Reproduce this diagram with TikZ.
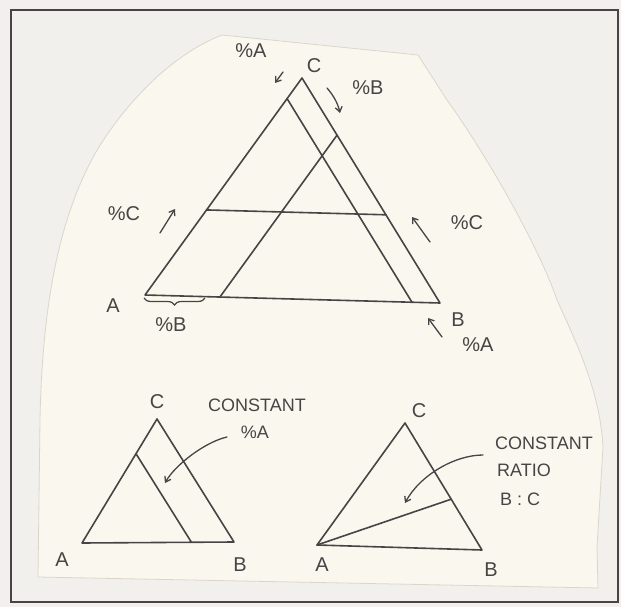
\documentclass[tikz,border=0pt]{standalone}
\usepackage{fontspec}
\setmainfont{Liberation Sans}
\usetikzlibrary{arrows.meta,decorations.pathreplacing,calc}
\definecolor{ink}{HTML}{4A4245}
\definecolor{paper}{HTML}{FAF8EE}
\definecolor{bg}{HTML}{F1F0EC}
\definecolor{edge}{HTML}{DAD6CB}
\begin{document}
\begin{tikzpicture}[x=1pt,y=-1pt,
  line/.style={draw=ink,line width=1.6pt,line join=round,line cap=round},
  lbl/.style={text=ink,font=\fontsize{20}{20}\selectfont,inner sep=0pt},
  note/.style={text=ink,font=\fontsize{18}{18}\selectfont,inner sep=0pt,anchor=west},
  arr/.style={draw=ink,line width=1.3pt,line cap=round,-{Straight Barb[length=5pt,width=7pt]}},
]
\useasboundingbox (0,0) rectangle (621,607);
\fill[bg] (0,0) rectangle (621,607);
% paper cut-out
\fill[paper,draw=edge,line width=0.8pt] (38,577) -- (40,420)
  .. controls (42,320) and (55,220) .. (99,147)
  .. controls (125,105) and (170,55) .. (222,35)
  -- (418,55) -- (447,100)
  .. controls (490,160) and (540,250) .. (557,300)
  .. controls (575,340) and (600,390) .. (603,447)
  -- (597,547) -- (598,588) -- cycle;
% frame
\draw[ink,line width=2.2pt] (11,10) rectangle (618,602);

% ---------- main triangle ----------
\coordinate (A) at (145,295);
\coordinate (B) at (440,303);
\coordinate (C) at (302,78);
\draw[line] (A) -- (B) -- (C) -- cycle;
\coordinate (pa1) at ($(A)!0.905!(C)$);
\coordinate (pa2) at ($(A)!0.905!(B)$);
\coordinate (pc1) at ($(C)!0.608!(A)$);
\coordinate (pc2) at ($(C)!0.608!(B)$);
\coordinate (pb1) at ($(B)!0.746!(A)$);
\coordinate (pb2) at ($(B)!0.746!(C)$);
\draw[line] (pa1) -- (pa2);
\draw[line] (pc1) -- (pc2);
\draw[line] (pb1) -- (pb2);

\node[lbl] (lA) at (113,306) {A};
\node[lbl] (lB) at (458,320) {B};
\node[lbl] (lC) at (314,66) {C};
\node[lbl] (tA) at (251,51) {\%A};
\node[lbl] (tB) at (368,88) {\%B};
\node[lbl] (lcl) at (124,214) {\%C};
\node[lbl] (lcr) at (467,223) {\%C};
\node[lbl] (bA) at (478,345) {\%A};
\node[lbl] (bB) at (171,325) {\%B};

\coordinate (a1s) at (283,72); \coordinate (a1e) at (275,83);
\draw[arr] (a1s) -- (a1e);
\coordinate (a2s) at (327,88); \coordinate (a2e) at (340,113);
\draw[arr] (a2s) .. controls (334,96) and (338,104) .. (a2e);
\coordinate (a3s) at (160,233); \coordinate (a3e) at (175,209);
\draw[arr] (a3s) -- (a3e);
\coordinate (a4s) at (430,242); \coordinate (a4e) at (412,217);
\draw[arr] (a4s) -- (a4e);
\coordinate (a5s) at (442,337); \coordinate (a5e) at (428,318);
\draw[arr] (a5s) -- (a5e);
% brace under A
\coordinate (br1) at (144,298); \coordinate (br2) at (205,298);
\draw[ink,line width=1.2pt,decorate,decoration={brace,mirror,amplitude=7pt}] (br1) -- (br2);

% ---------- bottom left triangle ----------
\coordinate (A2) at (82,543);
\coordinate (B2) at (234,542);
\coordinate (C2) at (157,419);
\draw[line] (A2) -- (B2) -- (C2) -- cycle;
\coordinate (q1) at ($(A2)!0.72!(C2)$);
\coordinate (q2) at ($(A2)!0.72!(B2)$);
\draw[line] (q1) -- (q2);
\node[lbl] (lA2) at (62,560) {A};
\node[lbl] (lB2) at (240,565) {B};
\node[lbl] (lC2) at (157,402) {C};
\node[note,anchor=center] (n1) at (257,405) {CONSTANT};
\node[note,anchor=center] (n2) at (255,432) {\%A};
\coordinate (a6s) at (227,437); \coordinate (a6e) at (165,483);
\draw[arr] (a6s) .. controls (205,442) and (175,465) .. (a6e);

% ---------- bottom right triangle ----------
\coordinate (A3) at (317,545);
\coordinate (B3) at (482,550);
\coordinate (C3) at (405,423);
\draw[line] (A3) -- (B3) -- (C3) -- cycle;
\coordinate (r1) at ($(C3)!0.6!(B3)$);
\draw[line] (A3) -- (r1);
\node[lbl] (lA3) at (322,565) {A};
\node[lbl] (lB3) at (491,570) {B};
\node[lbl] (lC3) at (419,411) {C};
\node[note] (m1) at (495,443) {CONSTANT};
\node[note] (m2) at (497,470) {RATIO};
\node[note] (m3) at (500,499) {B : C};
\coordinate (a7s) at (483,455); \coordinate (a7e) at (405,503);
\draw[arr] (a7s) .. controls (455,455) and (420,475) .. (a7e);
\end{tikzpicture}
\end{document}
